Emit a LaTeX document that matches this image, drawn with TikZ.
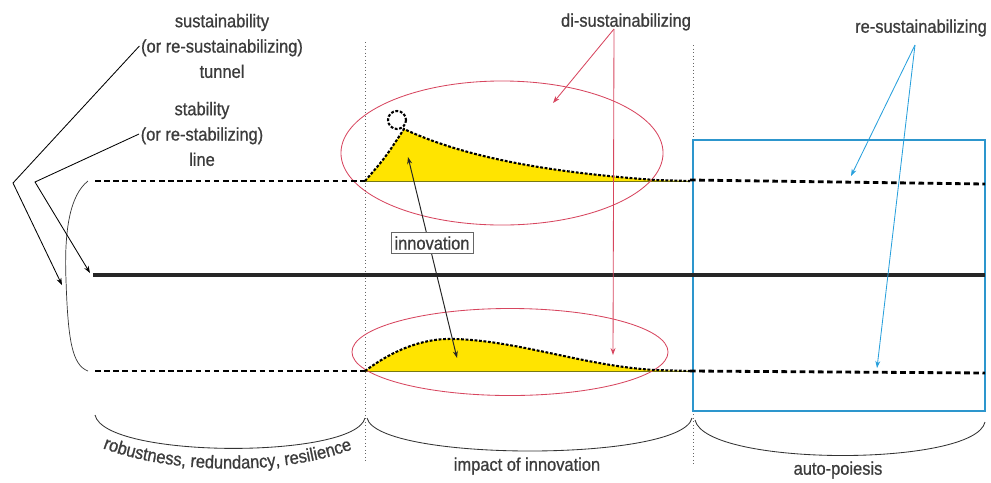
\documentclass[tikz,border=0pt]{standalone}
\usepackage{fontspec}
\setmainfont{Liberation Sans}[FakeStretch=0.9, FakeBold=0.8]
\usetikzlibrary{arrows.meta, shapes.geometric, decorations.text}
\definecolor{textgray}{RGB}{60,60,60}
\definecolor{ovalred}{RGB}{215,70,95}
\definecolor{arrowblue}{RGB}{40,160,220}
\definecolor{boxblue}{RGB}{45,150,205}
\definecolor{bumpyellow}{RGB}{255,228,0}
\definecolor{baseolive}{RGB}{120,120,20}

\begin{document}
\begin{tikzpicture}[
        x=0.025cm, y=-0.025cm,
        >={Stealth[length=5pt, width=3.5pt]},
        every node/.style={font=\fontsize{13}{18}\selectfont, text=textgray},
        caption/.style={align=center, inner sep=1pt},
        tunnelline/.style={line width=2pt, dash pattern=on 4pt off 2.5pt},
        bumpline/.style={line width=1.5pt, dash pattern=on 2pt off 1.2pt},
        divider/.style={line width=0.5pt, dotted, black!60},
        oval/.style={ellipse, draw=ovalred, line width=0.6pt, inner sep=0pt},
        brace/.style={line width=0.6pt, black!80},
        pointer/.style={->, line width=0.6pt}
    ]
        \useasboundingbox (0,0) rectangle (991,482);

        % Impact of innovation (yellow bumps)
        \fill[bumpyellow] (365,181) .. controls (385,158) .. (404,129)
            .. controls (470,160) and (560,173) .. (655,180) -- (690,181) -- cycle;
        \fill[bumpyellow] (365,371) .. controls (400,345) and (430,338) .. (455,339)
            .. controls (520,341) and (585,366) .. (655,370) -- (690,371) -- cycle;
        \draw[baseolive, line width=0.6pt] (365,181) -- (690,181);
        \draw[baseolive, line width=0.6pt] (365,371) -- (690,371);

        % Dividers
        \coordinate (d1top) at (365,42);
        \coordinate (d1bot) at (365,462);
        \coordinate (d2top) at (693,45);
        \coordinate (d2bot) at (693,464);
        \draw[divider] (d1top) -- (d1bot);
        \draw[divider] (d2top) -- (d2bot);

        % Auto-poiesis box
        \draw[boxblue, line width=1pt] (693,140) rectangle (985,411);

        % Ovals
        \node[oval, minimum width=8.05cm, minimum height=3.6cm] (topoval) at (502,153) {};
        \node[oval, minimum width=7.9cm, minimum height=2.175cm] (botoval) at (510,352) {};

        % Tunnel and stability lines
        \draw[tunnelline] (95,181) -- (365,181);
        \draw[bumpline] (365,181) .. controls (385,158) .. (404,129)
            .. controls (470,160) and (560,173) .. (655,180) -- (690,181);
        \draw[bumpline] (397,120) circle [radius=9];
        \draw[tunnelline] (690,180) -- (985,184);

        \draw[black!85, line width=2.5pt] (93,275) -- (985,275);

        \draw[tunnelline] (95,371) -- (365,371);
        \draw[bumpline] (365,371) .. controls (400,345) and (430,338) .. (455,339)
            .. controls (520,341) and (585,366) .. (655,370) -- (690,371);
        \draw[tunnelline] (690,371) -- (985,373);

        % Tunnel bracket
        \draw[black!80, line width=0.5pt] (88,181) .. controls (70,195) and (64,230) .. (66,280)
            .. controls (68,340) and (72,365) .. (88,371);

        % Left labels
        \node[caption] (tunnel) at (222,46) {sustainability\\(or re-sustainabilizing)\\tunnel};
        \node[caption] (stability) at (202,134) {stability\\(or re-stabilizing)\\line};
        \coordinate (tunnelbend) at (13,183);
        \coordinate (tunneltip) at (62,285);
        \coordinate (stabbend) at (35,182);
        \coordinate (stabtip) at (90,273);
        \draw[pointer] (tunnel.west) -- (tunnelbend) -- (tunneltip);
        \draw[pointer] (stability.west) -- (stabbend) -- (stabtip);

        % Innovation
        \coordinate (innotop) at (408,157);
        \coordinate (innobot) at (457,358);
        \draw[<->, line width=0.7pt, black!85] (innotop) -- (innobot);
        \node[draw=black!60, fill=white, inner sep=2.5pt] (innovation) at (432,243) {innovation};

        % di-sustainabilizing
        \node (disust) at (626,22) {di-sustainabilizing};
        \coordinate (disrc) at (614,29);
        \coordinate (ditop) at (553,103);
        \coordinate (dibot) at (613,355);
        \draw[pointer, ovalred] (disrc) -- (ditop);
        \draw[pointer, ovalred] (disrc) -- (dibot);

        % re-sustainabilizing
        \node (resust) at (921,28) {re-sustainabilizing};
        \coordinate (resrc) at (915,45);
        \coordinate (retop) at (851,176);
        \coordinate (rebot) at (877,368);
        \draw[pointer, arrowblue] (resrc) -- (retop);
        \draw[pointer, arrowblue] (resrc) -- (rebot);

        % Bottom braces
        \draw[brace] (95,415) .. controls (105,459) and (355,459) .. (365,418);
        \draw[brace] (367,418) .. controls (378,462) and (682,462) .. (692,418);
        \draw[brace] (695,420) .. controls (706,467) and (975,467) .. (985,422);

        \path[decorate, decoration={text along path, text align=center, text color=textgray,
            text={|\fontsize{13}{18}\selectfont|robustness, redundancy, resilience}}]
            (97,446) .. controls (170,476) and (290,476) .. (358,447);
        \node (impact) at (527,466) {impact of innovation};
        \node (autopoiesis) at (838,470) {auto-poiesis};
    \end{tikzpicture}
\end{document}
